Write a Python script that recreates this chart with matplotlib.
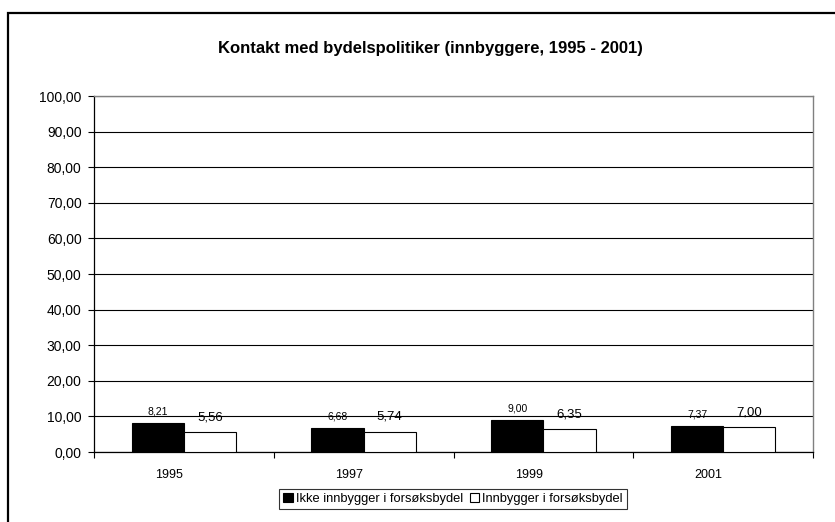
# -*- coding: utf-8 -*-

import numpy as np
import matplotlib
matplotlib.use('Agg')
import matplotlib.pyplot as plt
from matplotlib.patches import Patch, Rectangle
from matplotlib.ticker import FuncFormatter

plt.rcParams['font.family'] = ['Liberation Sans', 'DejaVu Sans']

# data
years = ['1995', '1997', '1999', '2001']
ikke_innbygger = [8.21, 6.68, 9.00, 7.37]
innbygger = [5.56, 5.74, 6.35, 7.00]
series_names = ['Ikke innbygger i forsøksbydel', 'Innbygger i forsøksbydel']
title = 'Kontakt med bydelspolitiker (innbyggere, 1995 - 2001)'
yticks = np.arange(0, 101, 10)


def fmt_comma(v, pos=None):
    return ('%.2f' % v).replace('.', ',')


fig = plt.figure(figsize=(8.35, 5.22), dpi=100)
ax = fig.add_axes([94 / 835, 1 - 452 / 522, (813 - 94) / 835, (452 - 96) / 522])

# outer chart border (cut off at right and bottom)
fig.patches.append(Rectangle((8 / 835, -0.2), 1.2, 0.2 + (1 - 13 / 522), transform=fig.transFigure,
                             facecolor='none', edgecolor='black', linewidth=1.6))

pos = np.arange(len(years)) + 0.5
w = 0.29
b1 = ax.bar(pos - w / 2, ikke_innbygger, w, color='black', edgecolor='black', linewidth=0.8, zorder=3)
b2 = ax.bar(pos + w / 2, innbygger, w, color='white', edgecolor='black', linewidth=0.8, zorder=3)

for rect, v in zip(b1, ikke_innbygger):
    ax.annotate(fmt_comma(v), (rect.get_x() + rect.get_width() / 2, v), xytext=(0, 4.5),
                textcoords='offset points', ha='center', va='bottom', fontsize=7.5, zorder=4)
for rect, v in zip(b2, innbygger):
    ax.annotate(fmt_comma(v), (rect.get_x() + rect.get_width() / 2, v), xytext=(0, 6.5),
                textcoords='offset points', ha='center', va='bottom', fontsize=9.5, zorder=4)

ax.set_xlim(0, len(years))
ax.set_ylim(0, 100)
ax.set_yticks(yticks)
ax.yaxis.set_major_formatter(FuncFormatter(fmt_comma))
ax.tick_params(axis='y', direction='out', length=4, width=0.8, pad=5, labelsize=10)
ax.grid(axis='y', color='black', linewidth=0.8, zorder=1)
ax.set_axisbelow(True)

# category labels, slightly left of the bar groups as in the original
ax.set_xticks(pos - 0.08)
ax.set_xticklabels(years, fontsize=9)
ax.set_xticks(np.arange(len(years) + 1), minor=True)
ax.tick_params(axis='x', which='major', length=0, pad=12)
ax.tick_params(axis='x', which='minor', direction='out', length=4, width=0.8)

for s in ['top', 'right']:
    ax.spines[s].set_color('#808080')
    ax.spines[s].set_linewidth(1.0)
ax.spines['left'].set_color('black')
ax.spines['bottom'].set_color('black')
ax.spines['left'].set_linewidth(0.9)
ax.spines['bottom'].set_linewidth(0.9)

fig.text(430 / 835, 1 - 48 / 522, title, ha='center', va='center', fontsize=12, fontweight='bold')

handles = [Patch(facecolor='black', edgecolor='black', linewidth=0.8),
           Patch(facecolor='white', edgecolor='black', linewidth=0.8)]
leg = fig.legend(handles, series_names, loc='center', bbox_to_anchor=(453 / 835, 1 - 499 / 522),
                 ncol=2, fontsize=9.3, frameon=True, fancybox=False, shadow=False,
                 handlelength=0.75, handleheight=0.75, handletextpad=0.25, columnspacing=0.5,
                 borderpad=0.3, borderaxespad=0)
leg.get_frame().set_edgecolor('black')
leg.get_frame().set_linewidth(0.8)

plt.savefig('out.png', dpi=100)
